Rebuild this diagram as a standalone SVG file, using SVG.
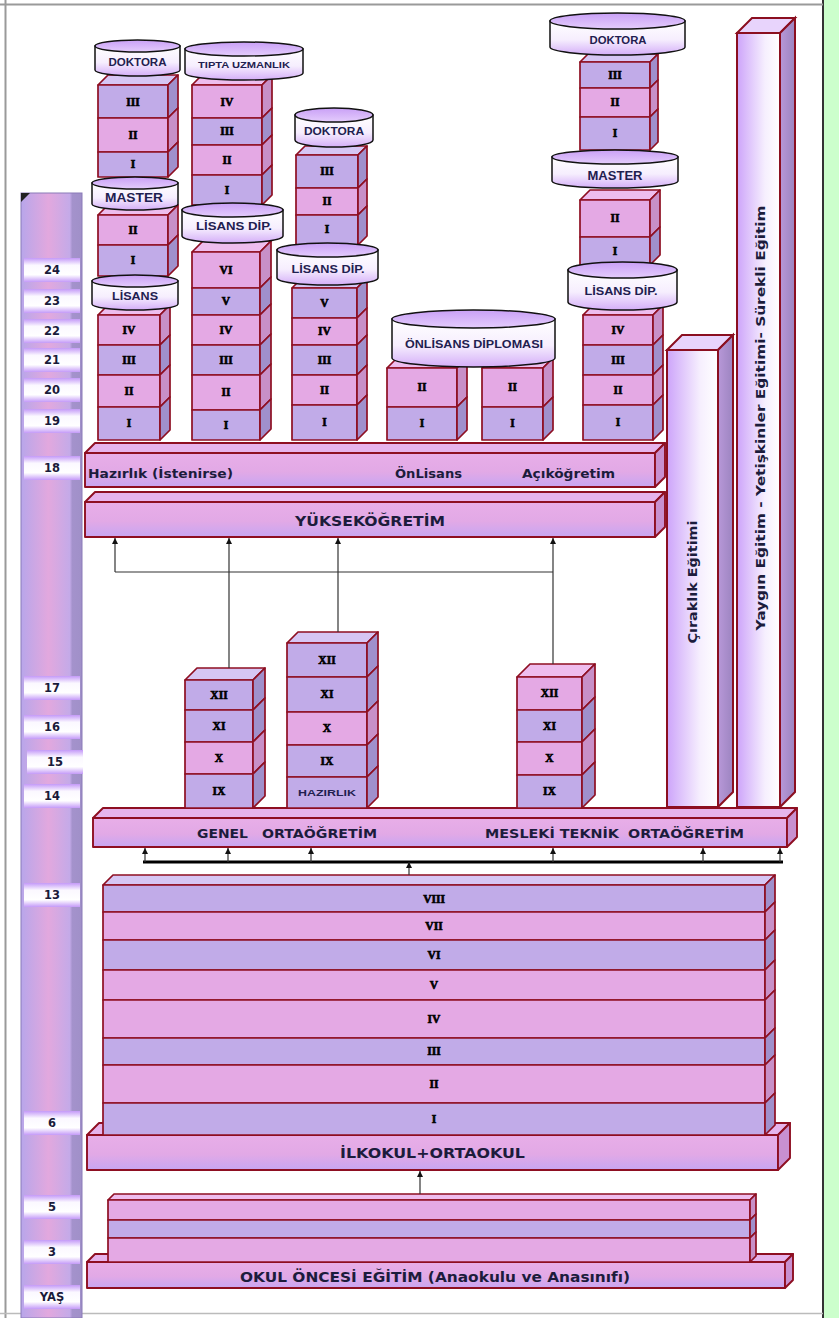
<svg xmlns="http://www.w3.org/2000/svg" width="839" height="1318" viewBox="0 0 839 1318">
<defs>
<style>
.bp{fill:#e4a9e4;stroke:#8e0f22;stroke-width:1.7;stroke-linejoin:round}
.bl{fill:#c1abe8;stroke:#8e0f22;stroke-width:1.7;stroke-linejoin:round}
.sp{fill:#c890c8;stroke:#8e0f22;stroke-width:1.7;stroke-linejoin:round}
.sl{fill:#a090cc;stroke:#8e0f22;stroke-width:1.7;stroke-linejoin:round}
.tp{fill:#eebdee;stroke:#8e0f22;stroke-width:1.7;stroke-linejoin:round}
.tl{fill:#d6c6f4;stroke:#8e0f22;stroke-width:1.7;stroke-linejoin:round}
.band{fill:url(#gBand);stroke:#8e0f22;stroke-width:1.9;stroke-linejoin:round}
.bside{fill:#c890d0;stroke:#8e0f22;stroke-width:1.9;stroke-linejoin:round}
.btop{fill:#e6b4ec;stroke:#8e0f22;stroke-width:1.9;stroke-linejoin:round}
.bar{fill:url(#gBar);stroke:#8b0f20;stroke-width:2}
.barside{fill:url(#gBarSide);stroke:#8b0f20;stroke-width:2}
.bartop{fill:#e8d4fc;stroke:#8b0f20;stroke-width:2}
.cyl{fill:url(#gCyl);stroke:#111;stroke-width:1.5}
.cylt{fill:url(#gCylTop);stroke:#111;stroke-width:1.5}
.rn{font-family:"Liberation Serif","DejaVu Serif",serif;font-weight:bold;font-size:11.5px;text-anchor:middle;fill:#000;stroke:#000;stroke-width:0.6}
.ct{font-family:"Liberation Sans",Arial,sans-serif;font-weight:bold;text-anchor:middle;fill:#1f2050}
.bt{font-family:"DejaVu Sans",Verdana,sans-serif;font-weight:bold;fill:#1c1c3c}
.agel{fill:url(#gAgeLbl)}
.aget{font-family:"DejaVu Sans",Verdana,sans-serif;font-weight:bold;font-size:11.5px;text-anchor:middle;fill:#1a1a3a}
.cn{stroke:#333;stroke-width:1.2;fill:none}
</style>
<linearGradient id="gBand" x1="0" y1="0" x2="0" y2="1"><stop offset="0" stop-color="#e8aee8"/><stop offset="0.55" stop-color="#e2a9e6"/><stop offset="1" stop-color="#c7a6f2"/></linearGradient>
<linearGradient id="gBar" x1="0" y1="0" x2="1" y2="0"><stop offset="0" stop-color="#cda4fa"/><stop offset="0.65" stop-color="#f6effe"/><stop offset="1" stop-color="#ffffff"/></linearGradient>
<linearGradient id="gBarSide" x1="0" y1="0" x2="1" y2="0"><stop offset="0" stop-color="#b898d8"/><stop offset="1" stop-color="#9c84c0"/></linearGradient>
<linearGradient id="gCyl" x1="0" y1="0" x2="0" y2="1"><stop offset="0" stop-color="#ffffff"/><stop offset="0.55" stop-color="#f6eefe"/><stop offset="1" stop-color="#d4aef8"/></linearGradient>
<linearGradient id="gCylTop" x1="0" y1="0" x2="0" y2="1"><stop offset="0" stop-color="#c9a0f6"/><stop offset="1" stop-color="#e4ccfc"/></linearGradient>
<linearGradient id="gAge" x1="0" y1="0" x2="1" y2="0"><stop offset="0" stop-color="#b8a6ea"/><stop offset="0.45" stop-color="#e2a8de"/><stop offset="0.8" stop-color="#c4aae8"/><stop offset="0.84" stop-color="#a492cc"/><stop offset="1" stop-color="#a090c8"/></linearGradient>
<linearGradient id="gAgeLbl" x1="0" y1="0" x2="0" y2="1"><stop offset="0" stop-color="#c49af8"/><stop offset="0.3" stop-color="#fbf8ff"/><stop offset="0.7" stop-color="#ffffff"/><stop offset="1" stop-color="#c49af8"/></linearGradient>
<marker id="ah" viewBox="0 0 8 8" refX="8" refY="4" markerWidth="6" markerHeight="6" markerUnits="userSpaceOnUse" orient="auto"><path d="M0,0L8,4L0,8z" fill="#111"/></marker>
</defs>
<rect x="0" y="0" width="839" height="1318" fill="#ffffff"/>
<g id="frame">
<rect x="824" y="0" width="15" height="1318" fill="#ccffcc"/>
<line x1="823" y1="0" x2="823" y2="1318" stroke="#333" stroke-width="2"/>
<line x1="0" y1="4.5" x2="823" y2="4.5" stroke="#9a9a9a" stroke-width="2"/>
<line x1="5.5" y1="0" x2="5.5" y2="1318" stroke="#9a9a9a" stroke-width="2"/>
<line x1="0" y1="1313.5" x2="823" y2="1313.5" stroke="#bbbbbb" stroke-width="1.5"/>
</g>
<g id="age-column">
<rect x="21" y="193" width="61" height="1125" fill="url(#gAge)" stroke="#8a7ab8" stroke-width="1"/>
<polygon points="21,193 30,193 21,202" fill="#222"/>
<rect class="agel" x="24" y="258" width="56" height="24"/><text class="aget" x="52" y="274">24</text>
<rect class="agel" x="24" y="289" width="56" height="24"/><text class="aget" x="52" y="305">23</text>
<rect class="agel" x="24" y="319" width="56" height="24"/><text class="aget" x="52" y="335">22</text>
<rect class="agel" x="24" y="348" width="56" height="24"/><text class="aget" x="52" y="364">21</text>
<rect class="agel" x="24" y="378" width="56" height="24"/><text class="aget" x="52" y="394">20</text>
<rect class="agel" x="24" y="409" width="56" height="24"/><text class="aget" x="52" y="425">19</text>
<rect class="agel" x="24" y="456" width="56" height="24"/><text class="aget" x="52" y="472">18</text>
<rect class="agel" x="24" y="676" width="56" height="24"/><text class="aget" x="52" y="692">17</text>
<rect class="agel" x="24" y="715" width="56" height="24"/><text class="aget" x="52" y="731">16</text>
<rect class="agel" x="27" y="750" width="56" height="24"/><text class="aget" x="55" y="766">15</text>
<rect class="agel" x="24" y="784" width="56" height="24"/><text class="aget" x="52" y="800">14</text>
<rect class="agel" x="24" y="883" width="56" height="24"/><text class="aget" x="52" y="899">13</text>
<rect class="agel" x="24" y="1111" width="56" height="24"/><text class="aget" x="52" y="1127">6</text>
<rect class="agel" x="24" y="1195" width="56" height="24"/><text class="aget" x="52" y="1211">5</text>
<rect class="agel" x="24" y="1240" width="56" height="24"/><text class="aget" x="52" y="1256">3</text>
<rect class="agel" x="24" y="1285" width="56" height="24"/><text class="aget" x="52" y="1301">YAŞ</text>
</g>
<g id="bar-yaygin">
<polygon class="bartop" points="737,33 752,18 795,18 780,33"/>
<rect class="bar" x="737" y="33" width="43" height="774"/>
<polygon class="barside" points="780,33 795,18 795,792 780,807"/>
<text class="bt" x="765" y="418" font-size="12.5" text-anchor="middle" textLength="425" lengthAdjust="spacingAndGlyphs" transform="rotate(-90 765 418)">Yaygın Eğitim - Yetişkinler Eğitimi- Sürekli Eğitim</text>
</g>
<g id="bar-ciraklik">
<polygon class="bartop" points="667,350 682,335 733,335 718,350"/>
<rect class="bar" x="667" y="350" width="51" height="457"/>
<polygon class="barside" points="718,350 733,335 733,792 718,807"/>
<text class="bt" x="697" y="582" font-size="12.5" text-anchor="middle" textLength="123" lengthAdjust="spacingAndGlyphs" transform="rotate(-90 697 582)">Çıraklık Eğitimi</text>
</g>
<g id="band-hazirlik">
<polygon class="btop" points="85,453 95,443 665,443 655,453"/>
<rect class="band" x="85" y="453" width="570" height="34"/>
<polygon class="bside" points="655,453 665,443 665,477 655,487"/>
<text class="bt" x="88" y="478" font-size="12" textLength="145" lengthAdjust="spacingAndGlyphs">Hazırlık (İstenirse)</text>
<text class="bt" x="395" y="478" font-size="12" textLength="67" lengthAdjust="spacingAndGlyphs">ÖnLisans</text>
<text class="bt" x="522" y="478" font-size="12" textLength="93" lengthAdjust="spacingAndGlyphs">Açıköğretim</text>
</g>
<g id="band-yuksekogretim">
<polygon class="btop" points="85,502 95,492 665,492 655,502"/>
<rect class="band" x="85" y="502" width="570" height="35"/>
<polygon class="bside" points="655,502 665,492 665,527 655,537"/>
<text class="bt" x="295" y="526" font-size="14" textLength="150" lengthAdjust="spacingAndGlyphs">YÜKSEKÖĞRETİM</text>
</g>
<g id="stack-c1-upper">
<polygon class="tl" points="98,85 108,75 178,75 168,85"/>
<rect class="bl" x="98" y="85" width="70" height="33"/><polygon class="sl" points="168,85 178,75 178,108 168,118"/><text class="rn" x="133" y="106">III</text>
<rect class="bp" x="98" y="118" width="70" height="34"/><polygon class="sp" points="168,118 178,108 178,142 168,152"/><text class="rn" x="133" y="139">II</text>
<rect class="bl" x="98" y="152" width="70" height="25"/><polygon class="sl" points="168,152 178,142 178,167 168,177"/><text class="rn" x="133" y="168">I</text>
</g>
<g id="stack-c1-middle">
<polygon class="tp" points="98,215 108,205 178,205 168,215"/>
<rect class="bp" x="98" y="215" width="70" height="30"/><polygon class="sp" points="168,215 178,205 178,235 168,245"/><text class="rn" x="133" y="234">II</text>
<rect class="bl" x="98" y="245" width="70" height="31"/><polygon class="sl" points="168,245 178,235 178,266 168,276"/><text class="rn" x="133" y="264">I</text>
</g>
<g id="stack-c1-lower">
<polygon class="tp" points="98,315 108,305 170,305 160,315"/>
<rect class="bp" x="98" y="315" width="62" height="30"/><polygon class="sp" points="160,315 170,305 170,335 160,345"/><text class="rn" x="129" y="334">IV</text>
<rect class="bl" x="98" y="345" width="62" height="30"/><polygon class="sl" points="160,345 170,335 170,365 160,375"/><text class="rn" x="129" y="364">III</text>
<rect class="bp" x="98" y="375" width="62" height="32"/><polygon class="sp" points="160,375 170,365 170,397 160,407"/><text class="rn" x="129" y="395">II</text>
<rect class="bl" x="98" y="407" width="62" height="33"/><polygon class="sl" points="160,407 170,397 170,430 160,440"/><text class="rn" x="129" y="427">I</text>
</g>
<g id="stack-c2-upper">
<polygon class="tp" points="192,85 202,75 272,75 262,85"/>
<rect class="bp" x="192" y="85" width="70" height="33"/><polygon class="sp" points="262,85 272,75 272,108 262,118"/><text class="rn" x="227" y="106">IV</text>
<rect class="bl" x="192" y="118" width="70" height="27"/><polygon class="sl" points="262,118 272,108 272,135 262,145"/><text class="rn" x="227" y="135">III</text>
<rect class="bp" x="192" y="145" width="70" height="30"/><polygon class="sp" points="262,145 272,135 272,165 262,175"/><text class="rn" x="227" y="164">II</text>
<rect class="bl" x="192" y="175" width="70" height="30"/><polygon class="sl" points="262,175 272,165 272,195 262,205"/><text class="rn" x="227" y="194">I</text>
</g>
<g id="stack-c2-lower">
<polygon class="tp" points="192,252 203,241 271,241 260,252"/>
<rect class="bp" x="192" y="252" width="68" height="36"/><polygon class="sp" points="260,252 271,241 271,277 260,288"/><text class="rn" x="226" y="274">VI</text>
<rect class="bl" x="192" y="288" width="68" height="27"/><polygon class="sl" points="260,288 271,277 271,304 260,315"/><text class="rn" x="226" y="305">V</text>
<rect class="bp" x="192" y="315" width="68" height="30"/><polygon class="sp" points="260,315 271,304 271,334 260,345"/><text class="rn" x="226" y="334">IV</text>
<rect class="bl" x="192" y="345" width="68" height="30"/><polygon class="sl" points="260,345 271,334 271,364 260,375"/><text class="rn" x="226" y="364">III</text>
<rect class="bp" x="192" y="375" width="68" height="35"/><polygon class="sp" points="260,375 271,364 271,399 260,410"/><text class="rn" x="226" y="396">II</text>
<rect class="bl" x="192" y="410" width="68" height="30"/><polygon class="sl" points="260,410 271,399 271,429 260,440"/><text class="rn" x="226" y="429">I</text>
</g>
<g id="stack-c3-upper">
<polygon class="tl" points="296,155 305,146 367,146 358,155"/>
<rect class="bl" x="296" y="155" width="62" height="33"/><polygon class="sl" points="358,155 367,146 367,179 358,188"/><text class="rn" x="327" y="175">III</text>
<rect class="bp" x="296" y="188" width="62" height="27"/><polygon class="sp" points="358,188 367,179 367,206 358,215"/><text class="rn" x="327" y="205">II</text>
<rect class="bl" x="296" y="215" width="62" height="30"/><polygon class="sl" points="358,215 367,206 367,236 358,245"/><text class="rn" x="327" y="233">I</text>
</g>
<g id="stack-c3-lower">
<polygon class="tl" points="292,288 302,278 367,278 357,288"/>
<rect class="bl" x="292" y="288" width="65" height="30"/><polygon class="sl" points="357,288 367,278 367,308 357,318"/><text class="rn" x="324.5" y="307">V</text>
<rect class="bp" x="292" y="318" width="65" height="27"/><polygon class="sp" points="357,318 367,308 367,335 357,345"/><text class="rn" x="324.5" y="335">IV</text>
<rect class="bl" x="292" y="345" width="65" height="30"/><polygon class="sl" points="357,345 367,335 367,365 357,375"/><text class="rn" x="324.5" y="364">III</text>
<rect class="bp" x="292" y="375" width="65" height="30"/><polygon class="sp" points="357,375 367,365 367,395 357,405"/><text class="rn" x="324.5" y="394">II</text>
<rect class="bl" x="292" y="405" width="65" height="35"/><polygon class="sl" points="357,405 367,395 367,430 357,440"/><text class="rn" x="324.5" y="426">I</text>
</g>
<g id="stack-c4a">
<polygon class="tp" points="387,368 397,358 467,358 457,368"/>
<rect class="bp" x="387" y="368" width="70" height="39"/><polygon class="sp" points="457,368 467,358 467,397 457,407"/><text class="rn" x="422" y="391">II</text>
<rect class="bl" x="387" y="407" width="70" height="33"/><polygon class="sl" points="457,407 467,397 467,430 457,440"/><text class="rn" x="422" y="427">I</text>
</g>
<g id="stack-c4b">
<polygon class="tp" points="482,368 492,358 553,358 543,368"/>
<rect class="bp" x="482" y="368" width="61" height="39"/><polygon class="sp" points="543,368 553,358 553,397 543,407"/><text class="rn" x="512.5" y="391">II</text>
<rect class="bl" x="482" y="407" width="61" height="33"/><polygon class="sl" points="543,407 553,397 553,430 543,440"/><text class="rn" x="512.5" y="427">I</text>
</g>
<g id="stack-c5-upper">
<polygon class="tl" points="580,62 588,54 658,54 650,62"/>
<rect class="bl" x="580" y="62" width="70" height="26"/><polygon class="sl" points="650,62 658,54 658,80 650,88"/><text class="rn" x="615" y="79">III</text>
<rect class="bp" x="580" y="88" width="70" height="29"/><polygon class="sp" points="650,88 658,80 658,109 650,117"/><text class="rn" x="615" y="106">II</text>
<rect class="bl" x="580" y="117" width="70" height="33"/><polygon class="sl" points="650,117 658,109 658,142 650,150"/><text class="rn" x="615" y="137">I</text>
</g>
<g id="stack-c5-middle">
<polygon class="tp" points="580,200 590,190 660,190 650,200"/>
<rect class="bp" x="580" y="200" width="70" height="37"/><polygon class="sp" points="650,200 660,190 660,227 650,237"/><text class="rn" x="615" y="222">II</text>
<rect class="bl" x="580" y="237" width="70" height="28"/><polygon class="sl" points="650,237 660,227 660,255 650,265"/><text class="rn" x="615" y="255">I</text>
</g>
<g id="stack-c5-lower">
<polygon class="tp" points="583,315 593,305 663,305 653,315"/>
<rect class="bp" x="583" y="315" width="70" height="30"/><polygon class="sp" points="653,315 663,305 663,335 653,345"/><text class="rn" x="618" y="334">IV</text>
<rect class="bl" x="583" y="345" width="70" height="30"/><polygon class="sl" points="653,345 663,335 663,365 653,375"/><text class="rn" x="618" y="364">III</text>
<rect class="bp" x="583" y="375" width="70" height="30"/><polygon class="sp" points="653,375 663,365 663,395 653,405"/><text class="rn" x="618" y="394">II</text>
<rect class="bl" x="583" y="405" width="70" height="35"/><polygon class="sl" points="653,405 663,395 663,430 653,440"/><text class="rn" x="618" y="426">I</text>
</g>
<g id="cyl-doktora-1"><path class="cyl" d="M95,46 L95,70 A42.5,6 0 0 0 180,70 L180,46 Z"/><ellipse class="cylt" cx="137.5" cy="46" rx="42.5" ry="6"/><text class="ct" x="137.5" y="66" font-size="11" textLength="58" lengthAdjust="spacingAndGlyphs">DOKTORA</text></g>
<g id="cyl-tipta"><path class="cyl" d="M185,49 L185,73 A59,7 0 0 0 303,73 L303,49 Z"/><ellipse class="cylt" cx="244" cy="49" rx="59" ry="7"/><text class="ct" x="244" y="68" font-size="9.5" textLength="92" lengthAdjust="spacingAndGlyphs">TIPTA UZMANLIK</text></g>
<g id="cyl-master-1"><path class="cyl" d="M92,183 L92,204 A43,6 0 0 0 178,204 L178,183 Z"/><ellipse class="cylt" cx="135" cy="183" rx="43" ry="6"/><text class="ct" x="134" y="202" font-size="12" textLength="58" lengthAdjust="spacingAndGlyphs">MASTER</text></g>
<g id="cyl-lisans-1"><path class="cyl" d="M92,281 L92,304 A43,6 0 0 0 178,304 L178,281 Z"/><ellipse class="cylt" cx="135" cy="281" rx="43" ry="6"/><text class="ct" x="135" y="300" font-size="11.5" textLength="46" lengthAdjust="spacingAndGlyphs">LİSANS</text></g>
<g id="cyl-lisansdip-2"><path class="cyl" d="M182,210 L182,236 A50.5,7 0 0 0 283,236 L283,210 Z"/><ellipse class="cylt" cx="232.5" cy="210" rx="50.5" ry="7"/><text class="ct" x="234" y="230" font-size="11.5" textLength="76" lengthAdjust="spacingAndGlyphs">LİSANS DİP.</text></g>
<g id="cyl-doktora-3"><path class="cyl" d="M295,115 L295,140 A39,7 0 0 0 373,140 L373,115 Z"/><ellipse class="cylt" cx="334" cy="115" rx="39" ry="7"/><text class="ct" x="334" y="135" font-size="11" textLength="60" lengthAdjust="spacingAndGlyphs">DOKTORA</text></g>
<g id="cyl-lisansdip-3"><path class="cyl" d="M277,250 L277,278 A50.5,7 0 0 0 378,278 L378,250 Z"/><ellipse class="cylt" cx="327.5" cy="250" rx="50.5" ry="7"/><text class="ct" x="328" y="273" font-size="11.5" textLength="73" lengthAdjust="spacingAndGlyphs">LİSANS DİP.</text></g>
<g id="cyl-doktora-5"><path class="cyl" d="M550,21 L550,47 A67.5,8 0 0 0 685,47 L685,21 Z"/><ellipse class="cylt" cx="617.5" cy="21" rx="67.5" ry="8"/><text class="ct" x="618" y="44" font-size="11" textLength="57" lengthAdjust="spacingAndGlyphs">DOKTORA</text></g>
<g id="cyl-master-5"><path class="cyl" d="M552,157 L552,181 A63,7 0 0 0 678,181 L678,157 Z"/><ellipse class="cylt" cx="615" cy="157" rx="63" ry="7"/><text class="ct" x="615" y="180" font-size="12" textLength="55" lengthAdjust="spacingAndGlyphs">MASTER</text></g>
<g id="cyl-lisansdip-5"><path class="cyl" d="M568,270 L568,302 A54.5,8 0 0 0 677,302 L677,270 Z"/><ellipse class="cylt" cx="622.5" cy="270" rx="54.5" ry="8"/><text class="ct" x="621" y="295" font-size="11.5" textLength="73" lengthAdjust="spacingAndGlyphs">LİSANS DİP.</text></g>
<g id="cyl-onlisans"><path class="cyl" d="M392,319 L392,358 A81.5,9 0 0 0 555,358 L555,319 Z"/><ellipse class="cylt" cx="473.5" cy="319" rx="81.5" ry="9"/><text class="ct" x="474" y="348" font-size="11" textLength="138" lengthAdjust="spacingAndGlyphs">ÖNLİSANS DİPLOMASI</text></g>
<g id="band-ortaogretim">
<polygon class="btop" points="93,818 103,808 797,808 787,818"/>
<rect class="band" x="93" y="818" width="694" height="29"/>
<polygon class="bside" points="787,818 797,808 797,837 787,847"/>
<text class="bt" x="197" y="838" font-size="12.5" textLength="51" lengthAdjust="spacingAndGlyphs">GENEL</text>
<text class="bt" x="262" y="838" font-size="12.5" textLength="115" lengthAdjust="spacingAndGlyphs">ORTAÖĞRETİM</text>
<text class="bt" x="485" y="838" font-size="12.5" textLength="134" lengthAdjust="spacingAndGlyphs">MESLEKİ TEKNİK</text>
<text class="bt" x="628" y="838" font-size="12.5" textLength="116" lengthAdjust="spacingAndGlyphs">ORTAÖĞRETİM</text>
</g>
<g id="stack-genel">
<polygon class="tl" points="185,680 197,668 265,668 253,680"/>
<rect class="bl" x="185" y="680" width="68" height="30"/><polygon class="sl" points="253,680 265,668 265,698 253,710"/><text class="rn" x="219" y="699">XII</text>
<rect class="bl" x="185" y="710" width="68" height="32"/><polygon class="sl" points="253,710 265,698 265,730 253,742"/><text class="rn" x="219" y="730">XI</text>
<rect class="bp" x="185" y="742" width="68" height="32"/><polygon class="sp" points="253,742 265,730 265,762 253,774"/><text class="rn" x="219" y="762">X</text>
<rect class="bl" x="185" y="774" width="68" height="34"/><polygon class="sl" points="253,774 265,762 265,796 253,808"/><text class="rn" x="219" y="795">IX</text>
</g>
<g id="stack-genel-hazirlik">
<polygon class="tl" points="287,643 298,632 378,632 367,643"/>
<rect class="bl" x="287" y="643" width="80" height="34"/><polygon class="sl" points="367,643 378,632 378,666 367,677"/><text class="rn" x="327" y="664">XII</text>
<rect class="bl" x="287" y="677" width="80" height="35"/><polygon class="sl" points="367,677 378,666 378,701 367,712"/><text class="rn" x="327" y="698">XI</text>
<rect class="bp" x="287" y="712" width="80" height="33"/><polygon class="sp" points="367,712 378,701 378,734 367,745"/><text class="rn" x="327" y="732">X</text>
<rect class="bl" x="287" y="745" width="80" height="32"/><polygon class="sl" points="367,745 378,734 378,766 367,777"/><text class="rn" x="327" y="765">IX</text>
<rect class="bl" x="287" y="777" width="80" height="31"/><polygon class="sl" points="367,777 378,766 378,797 367,808"/><text class="ct" x="327" y="796" font-size="9" textLength="58" lengthAdjust="spacingAndGlyphs">HAZIRLIK</text>
</g>
<g id="stack-mesleki">
<polygon class="tp" points="517,677 530,664 595,664 582,677"/>
<rect class="bp" x="517" y="677" width="65" height="33"/><polygon class="sp" points="582,677 595,664 595,697 582,710"/><text class="rn" x="549.5" y="697">XII</text>
<rect class="bl" x="517" y="710" width="65" height="32"/><polygon class="sl" points="582,710 595,697 595,729 582,742"/><text class="rn" x="549.5" y="730">XI</text>
<rect class="bp" x="517" y="742" width="65" height="33"/><polygon class="sp" points="582,742 595,729 595,762 582,775"/><text class="rn" x="549.5" y="762">X</text>
<rect class="bl" x="517" y="775" width="65" height="33"/><polygon class="sl" points="582,775 595,762 595,795 582,808"/><text class="rn" x="549.5" y="795">IX</text>
</g>
<g id="band-ilkokul">
<polygon class="btop" points="87,1135 99,1123 790,1123 778,1135"/>
<rect class="band" x="87" y="1135" width="691" height="35"/>
<polygon class="bside" points="778,1135 790,1123 790,1158 778,1170"/>
<text class="bt" x="340" y="1158" font-size="14" textLength="185" lengthAdjust="spacingAndGlyphs">İLKOKUL+ORTAOKUL</text>
</g>
<g id="stack-primary">
<polygon class="tl" points="103,885 113,875 775,875 765,885"/>
<rect class="bl" x="103" y="885" width="662" height="27"/><polygon class="sl" points="765,885 775,875 775,902 765,912"/><text class="rn" x="434" y="903">VIII</text>
<rect class="bp" x="103" y="912" width="662" height="28"/><polygon class="sp" points="765,912 775,902 775,930 765,940"/><text class="rn" x="434" y="930">VII</text>
<rect class="bl" x="103" y="940" width="662" height="30"/><polygon class="sl" points="765,940 775,930 775,960 765,970"/><text class="rn" x="434" y="959">VI</text>
<rect class="bp" x="103" y="970" width="662" height="30"/><polygon class="sp" points="765,970 775,960 775,990 765,1000"/><text class="rn" x="434" y="989">V</text>
<rect class="bp" x="103" y="1000" width="662" height="38"/><polygon class="sp" points="765,1000 775,990 775,1028 765,1038"/><text class="rn" x="434" y="1023">IV</text>
<rect class="bl" x="103" y="1038" width="662" height="27"/><polygon class="sl" points="765,1038 775,1028 775,1055 765,1065"/><text class="rn" x="434" y="1055">III</text>
<rect class="bp" x="103" y="1065" width="662" height="38"/><polygon class="sp" points="765,1065 775,1055 775,1093 765,1103"/><text class="rn" x="434" y="1088">II</text>
<rect class="bl" x="103" y="1103" width="662" height="32"/><polygon class="sl" points="765,1103 775,1093 775,1125 765,1135"/><text class="rn" x="434" y="1123">I</text>
</g>
<g id="band-okuloncesi">
<polygon class="btop" points="87,1262 95,1254 793,1254 785,1262"/>
<rect class="band" x="87" y="1262" width="698" height="26"/>
<polygon class="bside" points="785,1262 793,1254 793,1280 785,1288"/>
<text class="bt" x="240" y="1282" font-size="13.5" textLength="390" lengthAdjust="spacingAndGlyphs">OKUL ÖNCESİ EĞİTİM (Anaokulu ve Anasınıfı)</text>
</g>
<g id="stack-preschool">
<polygon class="tp" points="108,1200 114,1194 756,1194 750,1200"/>
<rect class="bp" x="108" y="1200" width="642" height="20"/><polygon class="sp" points="750,1200 756,1194 756,1214 750,1220"/>
<rect class="bl" x="108" y="1220" width="642" height="18"/><polygon class="sl" points="750,1220 756,1214 756,1232 750,1238"/>
<rect class="bp" x="108" y="1238" width="642" height="24"/><polygon class="sp" points="750,1238 756,1232 756,1256 750,1262"/>
</g>
<g id="connectors">
<polyline class="cn" points="115,572 553,572"/>
<line class="cn" x1="115" y1="572" x2="115" y2="538" marker-end="url(#ah)"/>
<line class="cn" x1="229" y1="668" x2="229" y2="538" marker-end="url(#ah)"/>
<line class="cn" x1="338" y1="632" x2="338" y2="538" marker-end="url(#ah)"/>
<line class="cn" x1="553" y1="664" x2="553" y2="538" marker-end="url(#ah)"/>
<line x1="143" y1="862" x2="783" y2="862" stroke="#000" stroke-width="3"/>
<line class="cn" x1="145" y1="862" x2="145" y2="848" marker-end="url(#ah)"/>
<line class="cn" x1="228" y1="862" x2="228" y2="848" marker-end="url(#ah)"/>
<line class="cn" x1="311" y1="862" x2="311" y2="848" marker-end="url(#ah)"/>
<line class="cn" x1="553" y1="862" x2="553" y2="848" marker-end="url(#ah)"/>
<line class="cn" x1="703" y1="862" x2="703" y2="848" marker-end="url(#ah)"/>
<line class="cn" x1="780" y1="862" x2="780" y2="848" marker-end="url(#ah)"/>
<line class="cn" x1="409" y1="875" x2="409" y2="862" marker-end="url(#ah)"/>
<line class="cn" x1="420" y1="1194" x2="420" y2="1171" marker-end="url(#ah)"/>
</g>
</svg>
